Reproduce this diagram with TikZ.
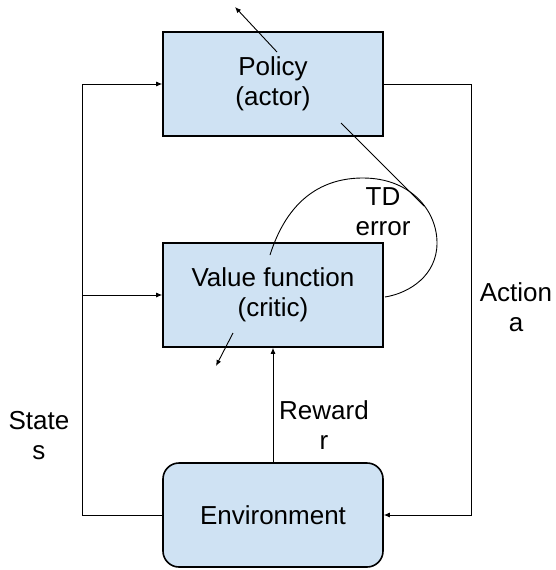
\documentclass[tikz,border=0pt]{standalone}
\usepackage{fontspec}
\setmainfont{Liberation Sans}
\usetikzlibrary{arrows.meta}
\definecolor{boxblue}{HTML}{CFE2F3}

\begin{document}
\begin{tikzpicture}[x=1pt,y=-1pt,
  box/.style={draw, rectangle, fill=boxblue, line width=1.6pt,
    minimum width=220pt, minimum height=104pt, align=center,
    font=\fontsize{26}{30}\selectfont},
  lbl/.style={align=center, font=\fontsize{26}{30}\selectfont},
  wire/.style={line width=0.9pt},
  tip/.style={wire, -{Latex[length=6pt,width=5pt]}}]
\useasboundingbox (0,0) rectangle (555,570);

\node[box] (policy) at (273,84) {Policy\\(actor)};
\node[box] (value) at (273,295) {Value function\\(critic)};
\node[box, rounded corners=16pt] (env) at (273,515) {Environment};

\coordinate (sl) at (82,515);
\coordinate (st) at (82,84);
\coordinate (sm) at (82,295);
\coordinate (ar) at (471,84);

% state
\path[draw,tip] (env.west) -- (sl) -- (st) -- (policy.west);
\path[draw,tip] (sm) -- (value.west);
\node[lbl] (state) at (39,436) {State\\s};

% action
\path[draw,tip] (policy.east) -- (ar) |- (env.east);
\node[lbl] (action) at (516,307) {Action\\a};

% reward
\path[draw,tip] (env.north) -- (value.south);
\node[lbl] (reward) at (324,425) {Reward\\r};

% TD error
\coordinate (td0) at (270,255);
\coordinate (td1) at (385,297);
\path[draw,wire] (td0) .. controls (290,192) and (330,178) .. (363,178)
  .. controls (410,178) and (437,210) .. (437,243)
  .. controls (437,275) and (410,293) .. (td1);
\node[lbl] (tderr) at (383,212) {TD\\error};

\coordinate (p0) at (341,123);
\coordinate (p1) at (424,206);
\path[draw,wire] (p0) -- (p1);

% updates
\coordinate (u0) at (277,52);
\coordinate (u1) at (235,7);
\path[draw,tip] (u0) -- (u1);
\coordinate (v0) at (233,333);
\coordinate (v1) at (216,366);
\path[draw,tip] (v0) -- (v1);
\end{tikzpicture}
\end{document}
